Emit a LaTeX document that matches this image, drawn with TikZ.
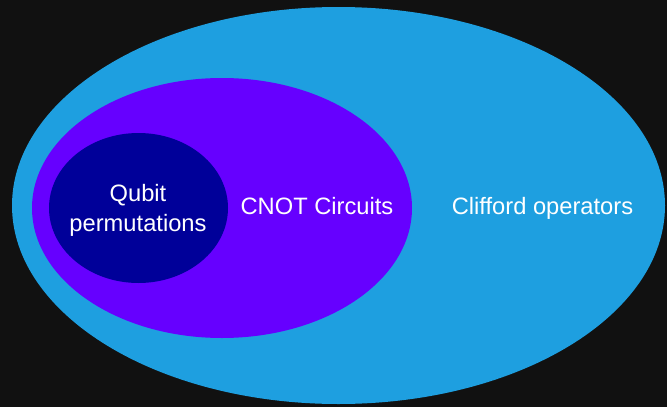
\documentclass[tikz,border=0pt]{standalone}
\usepackage{fontspec}
\setmainfont{Liberation Sans}
\usetikzlibrary{shapes.geometric}
\definecolor{bgdark}{HTML}{111111}
\definecolor{cliffblue}{HTML}{1E9FE0}
\definecolor{cnotpurple}{HTML}{6600FF}
\definecolor{permnavy}{HTML}{000099}
\tikzset{
  setblob/.style={ellipse, draw=none, inner sep=0pt},
  setlabel/.style={text=white, font=\fontsize{23.7}{29.5}\selectfont, inner sep=0pt, align=center}
}
\begin{document}
\begin{tikzpicture}[x=1pt, y=-1pt]
  % canvas
  \fill[bgdark] (0,0) rectangle (667,407);
  \useasboundingbox (0,0) rectangle (667,407);
  % nested sets
  \node[setblob, fill=cliffblue, minimum width=653pt, minimum height=397pt] (clifford) at (338.5,205.5) {};
  \node[setblob, fill=cnotpurple, minimum width=380pt, minimum height=260pt] (cnot) at (222,208) {};
  \node[setblob, fill=permnavy, minimum width=179pt, minimum height=150pt] (perm) at (138.5,208) {};
  % labels
  \node[setlabel, anchor=base] (permlabelA) at (138,201.5) {Qubit};
  \node[setlabel, anchor=base] (permlabelB) at (138,231) {permutations};
  \node[setlabel, anchor=base] (cnotlabel) at (317,214) {CNOT Circuits};
  \node[setlabel, anchor=base] (clifflabel) at (542.5,214) {Clifford operators};
\end{tikzpicture}
\end{document}
